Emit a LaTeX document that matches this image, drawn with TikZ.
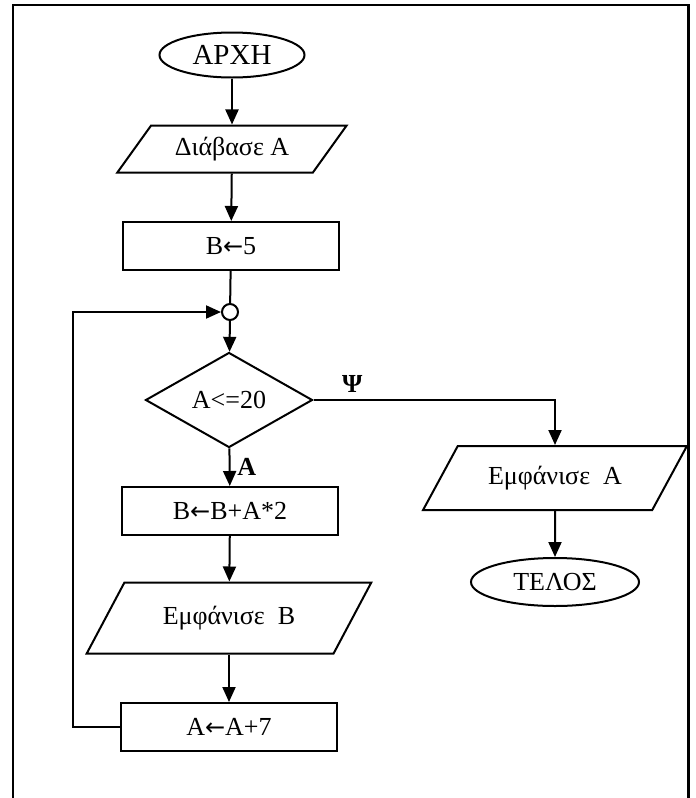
\documentclass[tikz,border=0pt]{standalone}
\usepackage{fontspec}
\setmainfont{Liberation Serif}
\newfontfamily\arrowfont{DejaVu Sans}
\newcommand{\assign}{{\arrowfont\fontsize{12}{14}\selectfont ←}}
\usetikzlibrary{shapes.geometric,arrows.meta}
\tikzset{base/.style={draw,fill=white,inner sep=0pt,
                       text badly centered}}
\tikzset{terminal/.style={base,ellipse}}

\begin{document}
\begin{tikzpicture}[x=0.5pt,y=-0.5pt,line width=1pt,
      >={Triangle[length=7.5pt,width=6.5pt]},
      font=\fontsize{13}{15}\selectfont,
      % styles for clarity
      terminal/.style={base,ellipse},
      io/.style      ={base,trapezium,trapezium left angle=45,
                       trapezium right angle=135,trapezium stretches=true},
      process/.style ={base,rectangle,minimum width=108pt,minimum height=24pt},
      decision/.style={base,diamond,minimum width=83.5pt,minimum height=47.5pt},
      junction/.style={base,circle,minimum size=8pt},
      branch/.style  ={font=\fontsize{13}{15}\selectfont\bfseries}
    ]
    \useasboundingbox (0,0) rectangle (696,798);
    % frame
    \draw (13,798) -- (13,5) -- (688,5);
    \draw[line width=1.5pt] (688,4) -- (688,798);

    % main column
    \node[terminal,minimum width=72.5pt,minimum height=22.5pt,
          font=\fontsize{14.5}{16}\selectfont] (start) at (232,55) {ΑΡΧΗ};
    \node[io,minimum width=115pt,minimum height=23.5pt] (readA) at (232,149) {Διάβασε Α};
    \node[process] (setB) at (231,246) {Β\assign5};
    \node[junction] (join) at (230,312) {};
    \node[decision] (cond) at (229,400) {Α<=20};
    \node[process] (updB) at (230,511) {Β\assign Β+Α*2};
    \node[io,minimum width=143.5pt,minimum height=35.5pt] (showB) at (229,618) {Εμφάνισε\ \ Β};
    \node[process] (incA) at (229,727) {Α\assign Α+7};

    % right branch
    \node[io,minimum width=132pt,minimum height=32pt] (showA) at (555,478) {Εμφάνισε\ \ Α};
    \node[terminal,minimum width=84pt,minimum height=24pt] (stop) at (555,582) {ΤΕΛΟΣ};

    \coordinate (back) at (73,312);

    % connectors
    \draw[->] (start) -- (readA);
    \draw[->] (readA) -- (setB);
    \draw (setB) -- (join);
    \draw[->] (join) -- (cond);
    \draw[->] (cond) -- node[right,branch] {Α} (updB);
    \draw[->] (updB) -- (showB);
    \draw[->] (showB) -- (incA);
    \draw[->] (incA.west) -- (incA.west -| back) -- (back) -- (join.west);
    \draw[->] (cond.east) -| node[pos=0.08,above,branch] {Ψ} (showA.north);
    \draw[->] (showA) -- (stop);
  \end{tikzpicture}
\end{document}
